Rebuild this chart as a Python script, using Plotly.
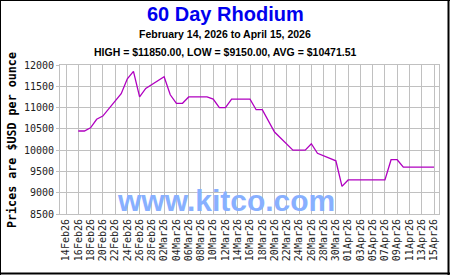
import plotly.graph_objects as go

# ---- data ----
dates = [
    "2026-02-16", "2026-02-17", "2026-02-18", "2026-02-19", "2026-02-20",
    "2026-02-23", "2026-02-24", "2026-02-25", "2026-02-26", "2026-02-27",
    "2026-03-02", "2026-03-03", "2026-03-04", "2026-03-05", "2026-03-06",
    "2026-03-09", "2026-03-10", "2026-03-11", "2026-03-12", "2026-03-13",
    "2026-03-16", "2026-03-17", "2026-03-18", "2026-03-19", "2026-03-20",
    "2026-03-23", "2026-03-24", "2026-03-25", "2026-03-26", "2026-03-27",
    "2026-03-30", "2026-03-31",
    "2026-04-01", "2026-04-02", "2026-04-03",
    "2026-04-06", "2026-04-07", "2026-04-08", "2026-04-09", "2026-04-10",
    "2026-04-13", "2026-04-14", "2026-04-15",
]
prices = [
    10450, 10450, 10525, 10725, 10800,
    11325, 11675, 11850, 11250, 11450,
    11725, 11300, 11100, 11100, 11250,
    11250, 11200, 11000, 11000, 11200,
    11200, 10950, 10950, 10700, 10425,
    10000, 10000, 10000, 10150, 9925,
    9750, 9150,
    9300, 9300, 9300,
    9300, 9300, 9775, 9775, 9600,
    9600, 9600, 9600,
]
title_text = "60 Day Rhodium"
subtitle_text = "February 14, 2026 to April 15, 2026"
stats_text = "HIGH = $11850.00, LOW = $9150.00, AVG = $10471.51"
y_title = "Prices are $USD per ounce"
watermark = "www.kitco.com"
x_range = ["2026-02-13 00:32", "2026-04-15 19:34"]
y_range = [8500, 12000]

# ---- layout geometry (pixels) ----
W, H = 450, 275
L, R, T, B = 60, 439, 65, 214
pw, ph = R - L, B - T


def px(x):
    return (x - L) / pw


def py(y):
    return (B - y) / ph


fig = go.Figure()
fig.add_trace(go.Scatter(
    x=dates, y=prices, mode="lines",
    line=dict(color="#b000c0", width=1.3),
    hoverinfo="skip", showlegend=False,
))

grid = "#c0c0c0"
mono = "DejaVu Sans Mono"
sans = "Liberation Sans, Arial"

fig.update_layout(
    width=W, height=H,
    margin=dict(l=L, r=W - R, t=T, b=H - B),
    paper_bgcolor="white", plot_bgcolor="white",
    showlegend=False,
    xaxis=dict(
        type="date", range=x_range,
        tick0="2026-02-14", dtick=2 * 86400000,
        tickformat="%d%b%y", tickangle=-90,
        tickfont=dict(family=mono, size=10, color="#222"),
        showgrid=True, gridcolor=grid, gridwidth=1,
        showline=True, linecolor=grid, linewidth=1, mirror=True,
        ticks="", zeroline=False,
    ),
    yaxis=dict(
        range=y_range, dtick=500, tick0=8500, tickformat="d",
        tickfont=dict(family=mono, size=10, color="#222"),
        showgrid=True, gridcolor=grid, gridwidth=1,
        showline=True, linecolor=grid, linewidth=1, mirror=True,
        ticks="outside", ticklen=3, tickcolor=grid, zeroline=False,
    ),
)

annotations = [
    dict(text="<b>" + title_text + "</b>", x=px(225), y=py(14),
         font=dict(family=sans, size=20, color="#0000ee")),
    dict(text="<b>" + subtitle_text + "</b>", x=px(225), y=py(34),
         font=dict(family=sans, size=10.5, color="#000")),
    dict(text="<b>" + stats_text + "</b>", x=px(225), y=py(52),
         font=dict(family=sans, size=10.5, color="#000")),
    dict(text="<b>" + y_title + "</b>", x=px(12), y=py(140), textangle=-90,
         font=dict(family=mono, size=11.7, color="#000")),
    dict(text="<b>" + watermark + "</b>", x=px(225.5), y=py(200),
         font=dict(family=sans, size=30, color="#88b0ff")),
]
for a in annotations:
    a.update(xref="paper", yref="paper", xanchor="center", yanchor="middle",
             showarrow=False)
fig.update_layout(annotations=annotations)

# outer frame
frame = [
    (0, 0.5, W, 0.5, 1),       # top
    (0.5, 0, 0.5, H, 1),       # left
    (448.5, 0, 448.5, H, 2),   # right
    (0, 273.5, W, 273.5, 2),   # bottom
]
for x0, y0, x1, y1, w in frame:
    fig.add_shape(type="line", xref="paper", yref="paper",
                  x0=px(x0), y0=py(y0), x1=px(x1), y1=py(y1),
                  line=dict(color="black", width=w), layer="above")

fig.write_html("out.html")
